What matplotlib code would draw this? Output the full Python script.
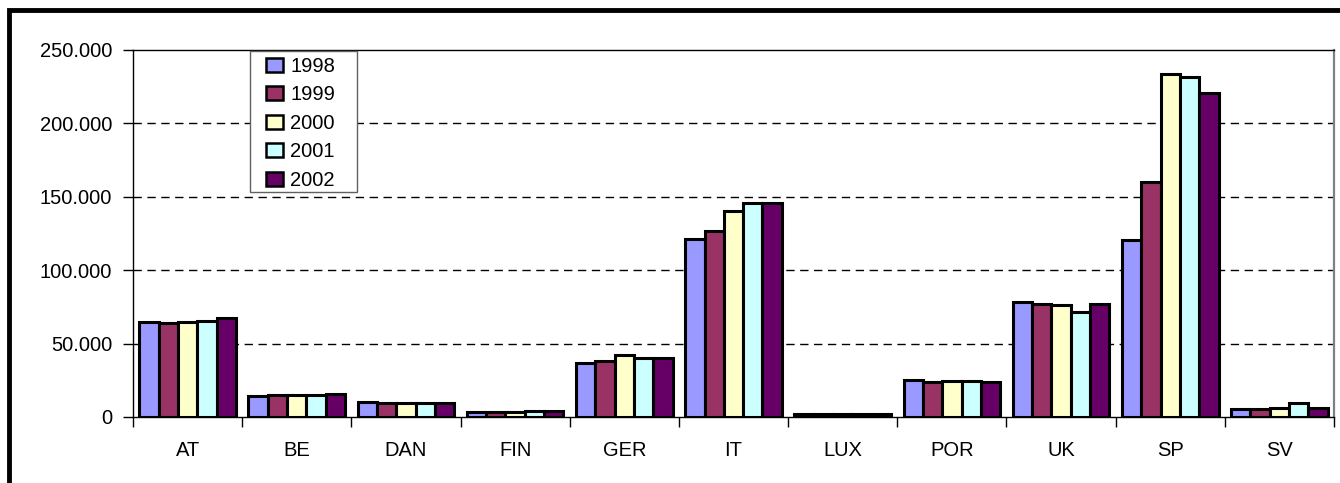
import matplotlib
matplotlib.use("Agg")
import matplotlib.pyplot as plt
import numpy as np
from matplotlib.patches import Rectangle
from matplotlib.ticker import FuncFormatter, MultipleLocator, FixedLocator

categories = ["AT", "BE", "DAN", "FIN", "GER", "IT", "LUX", "POR", "UK", "SP", "SV"]
years = ["1998", "1999", "2000", "2001", "2002"]
v1998 = [64700, 14500, 10400, 3500, 37000, 121000, 2000, 25200, 78300, 120500, 5200]
v1999 = [64000, 15000, 9600, 3500, 38300, 126900, 2000, 24000, 77300, 159800, 5200]
v2000 = [64700, 15000, 9600, 3700, 42200, 140000, 2000, 24700, 76600, 233400, 5900]
v2001 = [65400, 15000, 9200, 4000, 40000, 145900, 2000, 24700, 71500, 231700, 9300]
v2002 = [67400, 16000, 9200, 4000, 40000, 145500, 2000, 23600, 77300, 221000, 5900]
series = [v1998, v1999, v2000, v2001, v2002]
colors = ["#9999FF", "#993366", "#FFFFCC", "#CCFFFF", "#660066"]

plt.rcParams['font.family'] = ['Liberation Sans', 'DejaVu Sans']

W, H = 1340, 483
fig = plt.figure(figsize=(W / 100, H / 100), dpi=100)
ax = fig.add_axes([133 / W, 1 - 417 / H, (1334 - 133) / W, (417 - 50) / H])

x = np.arange(len(categories))
bw = 0.177
for i, (vals, c) in enumerate(zip(series, colors)):
    offs = (i - 2) * bw
    ax.bar(x + offs, vals, width=bw, color=c, edgecolor="black", linewidth=2.2,
           label=years[i], zorder=3)

ax.set_xlim(-0.5, len(categories) - 0.5)
ax.set_ylim(0, 250000)
ax.yaxis.set_major_locator(MultipleLocator(50000))
ax.yaxis.set_major_formatter(FuncFormatter(lambda v, p: "0" if v == 0 else f"{int(v):,}".replace(",", ".")))
ax.set_xticks(x)
ax.set_xticklabels(categories)
ax.xaxis.set_minor_locator(FixedLocator(np.arange(-0.5, len(categories), 1.0)))
ax.tick_params(axis="x", which="major", length=0, pad=17, labelsize=14.5)
ax.tick_params(axis="x", which="minor", length=7, width=1, direction="out")
ax.tick_params(axis="y", length=7, width=1, direction="out", labelsize=14.5, pad=8)

for yv in [50000, 100000, 150000, 200000]:
    ax.axhline(yv, color="black", linestyle=(0, (6, 4)), linewidth=1, zorder=1)

for s in ["left", "bottom", "top"]:
    ax.spines[s].set_color("black")
    ax.spines[s].set_linewidth(1)
ax.spines["right"].set_color("#808080")
ax.spines["right"].set_linewidth(1.6)

# legend frame (drawn manually) and legend entries
ax.add_patch(Rectangle((250 / W, 1 - 192 / H), (357 - 250) / W, (192 - 51) / H,
                       transform=fig.transFigure, facecolor="white",
                       edgecolor="#606060", linewidth=1, zorder=5, clip_on=False))
leg = ax.legend(loc="upper left", bbox_to_anchor=(266 / W, 1 - 57 / H),
                bbox_transform=fig.transFigure,
                fontsize=14.5, frameon=False, handlelength=0.85,
                handleheight=0.68, handletextpad=0.35, labelspacing=0.47,
                borderpad=0, borderaxespad=0)
leg.set_zorder(6)
for h in leg.legend_handles:
    h.set_linewidth(1.8)

fig.patches.append(Rectangle((9 / W, -0.1), 1.2, 1.1 - 10 / H,
                             transform=fig.transFigure, fill=False,
                             edgecolor="black", linewidth=3.5))

fig.savefig("out.png", dpi=100)
